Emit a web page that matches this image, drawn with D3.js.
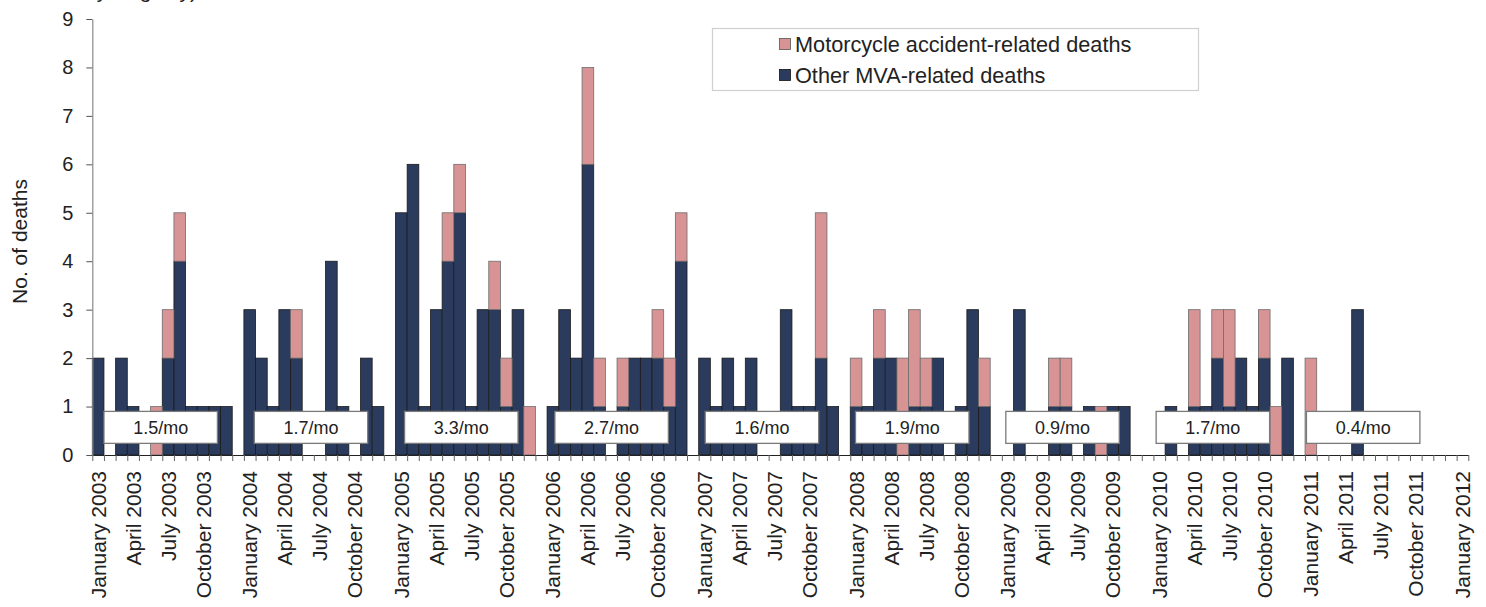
<!DOCTYPE html>
<html>
<head>
<meta charset="utf-8">
<script src="https://cdn.jsdelivr.net/npm/d3@7"></script>
<style>
  body { margin: 0; background: #fff; }
  text { font-family: "Liberation Sans", Arial, sans-serif; fill: #222; }
</style>
</head>
<body>
<script>
let width = 1486;
let height = 607;

// Data: monthly deaths, Jan 2003 .. Dec 2011 (12 values per line = one year)
const years = [2003, 2004, 2005, 2006, 2007, 2008, 2009, 2010, 2011];
const monthNames = ["January", "February", "March", "April", "May", "June",
  "July", "August", "September", "October", "November", "December"];

const otherMVA = [
  2, 0, 2, 1, 0, 0, 2, 4, 1, 1, 1, 1,   // 2003
  3, 2, 1, 3, 2, 0, 0, 4, 1, 0, 2, 1,   // 2004
  5, 6, 1, 3, 4, 5, 1, 3, 3, 1, 3, 0,   // 2005
  1, 3, 2, 6, 1, 0, 1, 2, 2, 2, 1, 4,   // 2006
  2, 1, 2, 1, 2, 0, 0, 3, 1, 1, 2, 1,   // 2007
  1, 1, 2, 2, 0, 1, 1, 2, 0, 1, 3, 1,   // 2008
  0, 3, 0, 0, 1, 1, 0, 1, 0, 1, 1, 0,   // 2009
  0, 1, 0, 1, 1, 2, 1, 2, 1, 2, 0, 2,   // 2010
  0, 0, 0, 0, 3, 0, 0, 0, 0, 0, 0, 0    // 2011
];
const motorcycle = [
  0, 0, 0, 0, 0, 1, 1, 1, 0, 0, 0, 0,   // 2003
  0, 0, 0, 0, 1, 0, 0, 0, 0, 0, 0, 0,   // 2004
  0, 0, 0, 0, 1, 1, 0, 0, 1, 1, 0, 1,   // 2005
  0, 0, 0, 2, 1, 0, 1, 0, 0, 1, 1, 1,   // 2006
  0, 0, 0, 0, 0, 0, 0, 0, 0, 0, 3, 0,   // 2007
  1, 0, 1, 0, 2, 2, 1, 0, 0, 0, 0, 1,   // 2008
  0, 0, 0, 0, 1, 1, 0, 0, 1, 0, 0, 0,   // 2009
  0, 0, 0, 2, 0, 1, 2, 0, 0, 1, 1, 0,   // 2010
  2, 0, 0, 0, 0, 0, 0, 0, 0, 0, 0, 0    // 2011
];

// yearly average per month, shown in boxes
const rateLabels = ["1.5/mo", "1.7/mo", "3.3/mo", "2.7/mo", "1.6/mo", "1.9/mo", "0.9/mo", "1.7/mo", "0.4/mo"];

const tickMonths = ["January", "April", "July", "October"];
const tickLabels = years.flatMap(y => tickMonths.map(m => m + " " + y)).concat(["January 2012"]);

const seriesNames = ["Motorcycle accident-related deaths", "Other MVA-related deaths"];
const colors = { moto: "#d89395", other: "#2a3b5e" };

// slots: 12 months + one empty slot per year, then January 2012
let slots = [];
years.forEach(y => {
  monthNames.forEach(m => slots.push(m + " " + y));
  slots.push("gap " + y);
});
slots.push("January 2012");

let rows = [];
years.forEach((y, yi) => {
  monthNames.forEach((m, mi) => {
    rows.push({ key: m + " " + y, other: otherMVA[yi * 12 + mi], moto: motorcycle[yi * 12 + mi] });
  });
});

let svg = d3.select("body").append("svg")
  .attr("width", width)
  .attr("height", height);

let x = d3.scaleBand()
  .domain(slots)
  .range([92.3, 1468.3])
  .padding(0);

let y = d3.scaleLinear()
  .domain([0, 9])
  .range([455, 19]);

// title tail, cut by the top edge as in the source figure
svg.append("text")
  .attr("x", 197)
  .attr("y", -2)
  .attr("text-anchor", "end")
  .style("font-size", "21px")
  .attr("fill", "#444")
  .text("(Source: Mortality Registry)");

// bars
let stacked = d3.stack().keys(["other", "moto"])(rows);

svg.append("g")
  .selectAll("g")
  .data(stacked)
  .enter()
  .append("g")
  .attr("fill", d => colors[d.key])
  .attr("stroke", d => d.key === "other" ? "#1b1b1b" : "#6d6d6d")
  .attr("stroke-width", 0.8)
  .selectAll("rect")
  .data(d => d.filter(p => p[1] > p[0]))
  .enter()
  .append("rect")
  .attr("x", d => x(d.data.key))
  .attr("width", x.bandwidth())
  .attr("y", d => y(d[1]))
  .attr("height", d => y(d[0]) - y(d[1]));

// rate boxes, one per year
let step = x.step();
let boxes = svg.append("g")
  .selectAll("g")
  .data(rateLabels)
  .enter()
  .append("g");

boxes.append("rect")
  .attr("x", (d, i) => x.range()[0] + (1.0 + 12.89 * i) * step)
  .attr("y", y(0.9))
  .attr("width", 9.73 * step)
  .attr("height", y(0.24) - y(0.9))
  .attr("fill", "#fff")
  .attr("stroke", "#7a7a7a")
  .attr("stroke-width", 1.3);

boxes.append("text")
  .attr("x", (d, i) => x.range()[0] + (1.0 + 12.89 * i + 9.73 / 2) * step)
  .attr("y", (y(0.9) + y(0.24)) / 2)
  .attr("dy", "0.35em")
  .attr("text-anchor", "middle")
  .style("font-size", "18px")
  .text(d => d);

// x axis: line + ticks at every slot boundary
let xIdx = d3.scaleLinear().domain([0, slots.length]).range(x.range());
svg.append("g")
  .attr("transform", "translate(0," + y(0) + ")")
  .call(d3.axisBottom(xIdx).tickValues(d3.range(0, slots.length + 1)).tickFormat("").tickSize(6).tickSizeOuter(0))
  .call(g => g.select(".domain").attr("stroke", "#222").attr("stroke-width", 1.2))
  .call(g => g.selectAll(".tick line").attr("stroke", "#666"));

// x labels
svg.append("g")
  .attr("transform", "translate(0," + y(0) + ")")
  .call(d3.axisBottom(x).tickValues(tickLabels).tickSize(0))
  .call(g => g.select(".domain").remove())
  .selectAll("text")
  .attr("transform", "rotate(-90)")
  .attr("text-anchor", "end")
  .attr("x", -16)
  .attr("y", 0)
  .attr("dy", "0.36em")
  .style("font-size", "21px")
  .style("font-family", "'Liberation Sans', Arial, sans-serif")
  .attr("fill", "#222");

// y axis
svg.append("g")
  .attr("transform", "translate(" + x.range()[0] + ",0)")
  .call(d3.axisLeft(y).ticks(9).tickSize(6).tickPadding(13).tickSizeOuter(0))
  .call(g => g.select(".domain").attr("stroke", "#8a8a8a").attr("stroke-width", 1.2))
  .call(g => g.selectAll(".tick line").attr("stroke", "#555"))
  .call(g => g.selectAll("text")
    .style("font-size", "20px")
    .style("font-family", "'Liberation Sans', Arial, sans-serif")
    .attr("fill", "#222"));

svg.append("text")
  .attr("transform", "translate(27,241.5) rotate(-90)")
  .attr("text-anchor", "middle")
  .style("font-size", "21px")
  .text("No. of deaths");

// legend
let legend = svg.append("g");
legend.append("rect")
  .attr("x", 712.5)
  .attr("y", 28.5)
  .attr("width", 486)
  .attr("height", 62)
  .attr("fill", "#fff")
  .attr("stroke", "#cfcfcf")
  .attr("stroke-width", 1.2);

let legendItems = [
  { name: seriesNames[0], color: colors.moto, stroke: "#555" },
  { name: seriesNames[1], color: colors.other, stroke: "#111" }
];
legendItems.forEach((d, i) => {
  legend.append("rect")
    .attr("x", 779.5)
    .attr("y", 38.5 + i * 31)
    .attr("width", 11)
    .attr("height", 11)
    .attr("fill", d.color)
    .attr("stroke", d.stroke)
    .attr("stroke-width", 0.8);
  legend.append("text")
    .attr("x", 795)
    .attr("y", 44 + i * 31)
    .attr("dy", "0.35em")
    .style("font-size", "21.7px")
    .text(d.name);
});
</script>
</body>
</html>
